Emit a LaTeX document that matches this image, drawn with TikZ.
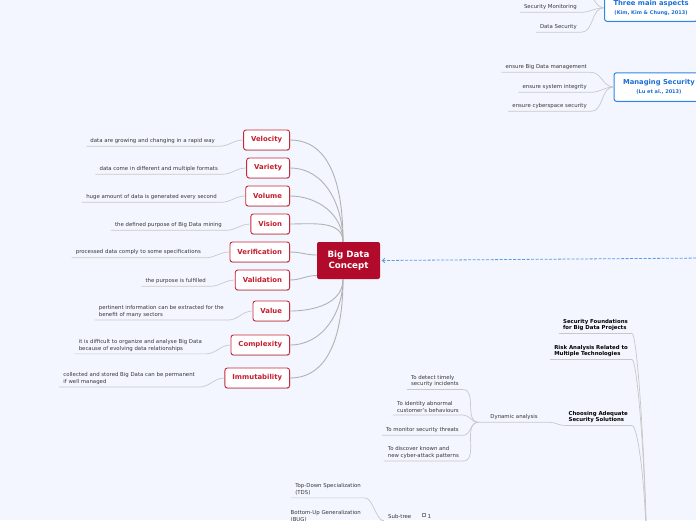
\documentclass[tikz,border=0pt]{standalone}
\usepackage{fontspec}
\setmainfont{DejaVu Sans}
\usetikzlibrary{shadows,arrows.meta}
\definecolor{bg}{RGB}{243,246,254}
\definecolor{txt}{RGB}{55,55,55}
\definecolor{uln}{RGB}{200,200,200}
\definecolor{con}{RGB}{178,178,178}
\definecolor{redb}{RGB}{200,40,58}
\definecolor{redt}{RGB}{196,30,48}
\definecolor{bigf}{RGB}{178,10,43}
\definecolor{blueb}{RGB}{46,134,232}
\definecolor{bluet}{RGB}{27,111,214}
\definecolor{dashc}{RGB}{90,158,234}
\begin{document}
\begin{tikzpicture}[x=1pt,y=-1pt,
 desc/.style={font=\fontsize{5.4}{6.5}\selectfont, text=txt, align=left, inner xsep=4pt, inner ysep=2.5pt, anchor=east},
 bdesc/.style={desc, font=\bfseries\fontsize{5.4}{6.2}\selectfont, text=black},
 redbox/.style={draw=redb, line width=0.9pt, fill=white, rounded corners=2.5pt, text=redt, font=\bfseries\fontsize{6.9}{8}\selectfont, minimum height=20pt, inner xsep=7.5pt, inner ysep=0pt, anchor=east, drop shadow={shadow xshift=0.5pt, shadow yshift=-0.9pt, opacity=0.3, fill=black!60}},
 bluebox/.style={draw=blueb, line width=1pt, fill=white, rounded corners=2.5pt, text=bluet, align=center, inner xsep=9pt, inner ysep=3pt, anchor=west, minimum height=28.5pt, font=\bfseries, drop shadow={shadow xshift=0.5pt, shadow yshift=-0.9pt, opacity=0.3, fill=black!60}},
 uline/.style={draw=uln, line width=0.7pt},
 conn/.style={draw=con, line width=0.9pt},
 dasharr/.style={draw=dashc, dash pattern=on 3pt off 1.5pt, line width=0.8pt, -{Straight Barb[length=2.5pt,width=4.5pt]}},
]
\useasboundingbox (0,0) rectangle (696,520);
\fill[bg] (0,0) rectangle (696,520);
\clip (0,0) rectangle (696,520);

% central node
\node[fill=bigf, rounded corners=2pt, text=white, font=\bfseries\fontsize{8.7}{10.7}\selectfont, align=center, minimum width=63pt, minimum height=37pt, inner sep=0pt] (big) at (348.5,260.5) {Big Data\\Concept};

% left boxes
\node[redbox] (vel) at (290,140) {Velocity};
\node[redbox] (var) at (290,168) {Variety};
\node[redbox] (vol) at (290,196) {Volume};
\node[redbox] (vis) at (290,224) {Vision};
\node[redbox] (ver) at (290,252) {Verification};
\node[redbox] (vld) at (290,280) {Validation};
\node[redbox] (vlu) at (290,311) {Value};
\node[redbox] (cpx) at (290,345) {Complexity};
\node[redbox] (imm) at (290,378) {Immutability};

% descriptions
\node[desc] (dvel) at (219,141) {data are growing and changing in a rapid way};
\node[desc] (dvar) at (222,169) {data come in different and multiple formats};
\node[desc] (dvol) at (221,197) {huge amount of data is generated every second};
\node[desc] (dvis) at (226,225) {the defined purpose of Big Data mining};
\node[desc] (dver) at (205,252.5) {processed data comply to some specifications};
\node[desc] (dvld) at (210,281) {the purpose is fulfilled};
\node[desc] (dvlu) at (228,311.5) {pertinent information can be extracted for the\\benefit of many sectors};
\node[desc] (dcpx) at (206,345.3) {it is difficult to organize and analyse Big Data\\because of evolving data relationships};
\node[desc] (dimm) at (199,378.5) {collected and stored Big Data can be permanent\\if well managed};

\foreach \d/\b in {dvel/vel,dvar/var,dvol/vol,dvis/vis,dver/ver,dvld/vld,dvlu/vlu,dcpx/cpx,dimm/imm}
  \draw[uline] (\d.south west) -- (\d.south east) to[out=0,in=180] (\b.west);

% connectors to central node
\foreach \b in {vel,var,vol,vis}
  \draw[conn] (\b.east) to[out=0,in=90] ([xshift=-5.5pt]big.north);
\draw[conn] (ver.east) to[out=0,in=180] ([yshift=5.5pt]big.west);
\draw[conn] (vld.east) to[out=0,in=180] ([yshift=-15pt]big.west);
\foreach \b in {vlu,cpx,imm}
  \draw[conn] (\b.east) to[out=0,in=-90] ([xshift=-5.5pt]big.south);

% dashed arrow
\coordinate (darr) at (705,258);
\draw[dasharr] (darr) -- ([xshift=1.5pt]big.east);

% top right
\node[bluebox, minimum height=27pt] (tma) at (604,7.8) {\fontsize{6.8}{8}\selectfont Three main aspects\\[-3pt]\fontsize{5}{6}\selectfont (Kim, Kim \& Chung, 2013)};
\coordinate (utop) at (584,-8);
\node[desc] (dsm) at (581,7) {Security Monitoring};
\node[desc] (dds) at (581,27) {Data Security};
\draw[uline] (utop) to[out=0,in=180] (tma.west);
\foreach \d in {dsm,dds}
  \draw[uline] (\d.south west) -- (\d.south east) to[out=0,in=180] (tma.west);

\node[bluebox] (msec) at (613.5,87) {\fontsize{6.8}{8}\selectfont Managing Security\\[-3pt]\fontsize{5}{6}\selectfont (Lu et al., 2013)};
\node[desc] (dbm) at (591,67) {ensure Big Data management};
\node[desc] (dsi) at (591,87) {ensure system integrity};
\node[desc] (dcs) at (591,106) {ensure cyberspace security};
\foreach \d in {dbm,dsi,dcs}
  \draw[uline] (\d.south west) -- (\d.south east) to[out=0,in=180] (msec.west);

% bottom right
\coordinate (prt) at (647,580);
\node[bdesc] (dsf) at (632,325) {Security Foundations\\for Big Data Projects};
\node[bdesc] (dra) at (632,351) {Risk Analysis Related to\\Multiple Technologies};
\node[bdesc] (dca) at (632,417) {Choosing Adequate\\Security Solutions};
\foreach \d in {dsf,dra,dca}
  \draw[uline] (\d.south west) -- (\d.south east) .. controls +(6,0) and +(0,-90) .. (prt);

\node[desc, inner xsep=12pt] (ddyn) at (550,417) {Dynamic analysis};
\draw[uline] (ddyn.south west) -- (ddyn.south east) to[out=0,in=180] (dca.south west);
\node[desc] (c1) at (463,381) {To detect timely\\security incidents};
\node[desc] (c2) at (463,407) {To identity abnormal\\customer's behaviours};
\node[desc] (c3) at (463,430) {To monitor security threats};
\node[desc] (c4) at (463,452.5) {To discover known and\\new cyber-attack patterns};
\foreach \d in {c1,c2,c3,c4}
  \draw[uline] (\d.south west) -- (\d.south east) to[out=0,in=180] (ddyn.south west);

% bottom left
\node[desc] (tds) at (365,489.5) {Top-Down Specialization\\(TDS)};
\node[desc] (bug) at (365,516.5) {Bottom-Up Generalization\\(BUG)};
\node[desc, anchor=west] (sub) at (384,516) {Sub-tree};
\node[draw=txt!60, line width=0.4pt, minimum size=3.6pt, inner sep=0pt] (chk) at (423.5,514.5) {};
\node[desc, anchor=west, inner sep=0pt] (one) at (427.5,516.5) {1};
\foreach \d in {tds,bug}
  \draw[uline] (\d.south west) -- (\d.south east) .. controls +(8,0) and +(-8,0) .. (sub.south west);
\end{tikzpicture}
\end{document}
